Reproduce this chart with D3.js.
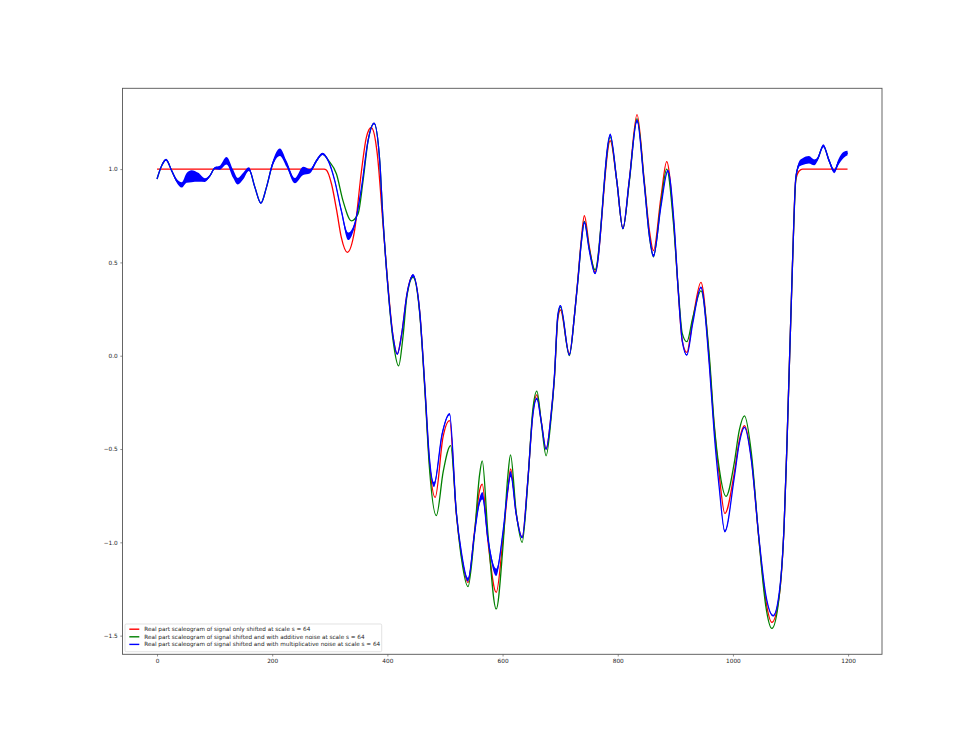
<!DOCTYPE html>
<html>
<head>
<meta charset="utf-8">
<script src="https://cdn.jsdelivr.net/npm/d3@7"></script>
<style>
html,body{margin:0;padding:0;background:#fff;}
svg{display:block;}
text{font-family:"DejaVu Sans",sans-serif;}
</style>
</head>
<body>
<svg id="chart" width="980" height="735"></svg>
<script>
// ---- data ----
const xTicks = [0, 200, 400, 600, 800, 1000, 1200];
const yTicks = [1.0, 0.5, 0.0, -0.5, -1.0, -1.5];
const seriesNames = [
  "Real part scaleogram of signal only shifted at scale s = 64",
  "Real part scaleogram of signal shifted and with additive noise at scale s = 64",
  "Real part scaleogram of signal shifted and with multiplicative noise at scale s = 64"
];
const seriesColors = ["#ff0000", "#008000", "#0000ff"];

// red: shifted only  [x, value]
const redData = [
[0,1.0],[290,1.0],[294,0.995],[303,0.92],[312,0.777],[320,0.634],[330.5,0.554],[343,0.67],[355,0.99],[363.5,1.17],[372,1.223],[382.5,1.08],[392,0.72],[399,0.45],[410,0.10],[417,0.01],[425,0.12],[434,0.33],[444,0.43],[456,0.24],[465,-0.17],[473,-0.57],[483,-0.759],[496.5,-0.438],[508,-0.348],[519.7,-0.848],[528.3,-1.063],[540,-1.215],[551.4,-0.938],[560,-0.723],[564.7,-0.688],[574.5,-0.991],[589,-1.268],[600.5,-0.99],[609,-0.723],[614,-0.607],[623.7,-0.848],[634,-0.974],[643.8,-0.67],[652.5,-0.313],[659.5,-0.21],[667,-0.348],[675.6,-0.50],[684.4,-0.313],[690,-0.12],[696,0.20],[700.5,0.245],[716,0.01],[725,0.223],[731,0.42],[736.5,0.616],[742,0.75],[750.8,0.58],[760.6,0.45],[787,1.152],[798.3,0.938],[809,0.682],[820,0.938],[833.5,1.292],[846,0.938],[855,0.67],[862,0.563],[875,0.848],[885,1.04],[897,0.72],[905,0.35],[912,0.08],[920,0.018],[930,0.188],[944.5,0.393],[959,-0.027],[967.6,-0.384],[976,-0.634],[986,-0.845],[1002,-0.634],[1011,-0.455],[1020,-0.375],[1032,-0.55],[1045,-0.98],[1057,-1.31],[1067.6,-1.429],[1080,-1.295],[1089,-0.90],[1094,-0.455],[1103.4,0.49],[1109,0.938],[1115,0.99],[1121,1.0],[1199,1.0]
];

// green: shifted + additive noise  [x, value]
const greenData = [
[0,0.947],[8,1.018],[15.6,1.05],[25.5,0.991],[34,0.938],[42.8,0.915],[51.5,0.953],[60,0.962],[71.6,0.956],[83.2,0.941],[92,0.965],[100.6,1.005],[108,1.006],[120.8,1.045],[132.3,0.974],[140,0.935],[149.7,0.963],[159.5,1.0],[170,0.902],[180.3,0.818],[190,0.902],[200.6,1.027],[213.3,1.09],[225,1.027],[239.3,0.938],[253.7,0.991],[265.3,0.989],[277,1.045],[287.3,1.081],[298,1.045],[311.6,0.974],[323,0.83],[337.6,0.723],[349,0.76],[357.8,0.938],[366.4,1.15],[376.9,1.245],[386.7,1.045],[392,0.75],[399.3,0.43],[410,0.08],[419.6,-0.054],[427,0.10],[434,0.32],[444.5,0.42],[456,0.23],[465,-0.18],[473,-0.6],[485,-0.857],[497,-0.62],[509.8,-0.482],[520,-0.85],[528.3,-1.08],[540,-1.237],[551.4,-0.95],[560,-0.64],[564.7,-0.563],[574.5,-0.95],[589,-1.357],[600.5,-1.03],[609,-0.65],[613.8,-0.531],[623.7,-0.84],[634,-1.0],[643.8,-0.68],[652.5,-0.29],[659.5,-0.19],[667,-0.35],[675.6,-0.536],[684.4,-0.33],[690,-0.12],[696,0.21],[700.5,0.26],[716,0.0],[725,0.22],[731,0.41],[736.5,0.6],[742,0.72],[750.8,0.57],[760.6,0.46],[787,1.17],[798.3,0.938],[809,0.68],[820,0.93],[833.5,1.27],[846,0.93],[855,0.64],[862,0.53],[875,0.82],[885,1.0],[897,0.7],[905,0.36],[912,0.12],[920,0.075],[930,0.2],[944.5,0.348],[959,0.0],[967.6,-0.37],[976,-0.6],[988,-0.754],[1002,-0.58],[1011,-0.40],[1020,-0.322],[1032,-0.52],[1045,-0.98],[1057,-1.34],[1067.6,-1.461],[1080,-1.30],[1089,-0.90],[1094,-0.455],[1103.4,0.49],[1109,0.94],[1112,1.0],[1115,1.027],[1121,1.04],[1132,1.05],[1141,1.036],[1147,1.054],[1157,1.125],[1167,1.045],[1176,0.988],[1183,1.036],[1192.6,1.077],[1199,1.086]
];

// blue: shifted + multiplicative noise  [x, value, noise half-spread]
const blueData = [
[0,0.947,0.003],[8,1.018,0.003],[15.6,1.05,0.005],[25.5,0.991,0.006],[34,0.938,0.01],[42.8,0.915,0.014],[51.5,0.953,0.026],[60,0.962,0.032],[71.6,0.956,0.024],[83.2,0.941,0.01],[92,0.965,0.005],[100.6,1.005,0.006],[108,1.006,0.01],[120.8,1.045,0.02],[132.3,0.974,0.022],[140,0.935,0.018],[149.7,0.963,0.018],[159.5,1.0,0.01],[170,0.902,0.004],[180.3,0.818,0.003],[190,0.902,0.004],[200.6,1.027,0.012],[213.3,1.09,0.02],[225,1.027,0.016],[239.3,0.938,0.014],[253.7,0.991,0.022],[265.3,0.989,0.012],[277,1.045,0.008],[287.3,1.081,0.006],[298,1.04,0.005],[308.6,0.938,0.006],[320,0.777,0.01],[332,0.64,0.02],[343.3,0.705,0.012],[355,0.90,0.006],[366.4,1.152,0.005],[376.9,1.245,0.005],[386.7,1.045,0.003],[392,0.75,0.003],[399.3,0.43,0.003],[410,0.10,0.003],[417.3,0.009,0.004],[425,0.12,0.004],[434,0.33,0.005],[444.5,0.43,0.008],[456,0.24,0.004],[465,-0.16,0.004],[473,-0.55,0.006],[481,-0.691,0.014],[495,-0.42,0.01],[508,-0.313,0.006],[519.7,-0.84,0.004],[528.3,-1.05,0.005],[540,-1.20,0.01],[551.4,-0.95,0.012],[560,-0.78,0.018],[565,-0.75,0.02],[574.5,-0.98,0.016],[589,-1.161,0.02],[600.5,-0.95,0.012],[609,-0.72,0.012],[614,-0.634,0.016],[623.7,-0.85,0.006],[634,-0.974,0.005],[643.8,-0.67,0.004],[652.5,-0.32,0.004],[659.5,-0.23,0.006],[667,-0.35,0.004],[675.6,-0.50,0.004],[684.4,-0.31,0.003],[690,-0.11,0.003],[696,0.22,0.003],[700.5,0.268,0.004],[716,0.005,0.004],[725,0.22,0.003],[731,0.41,0.003],[736.5,0.6,0.004],[742,0.714,0.006],[750.8,0.56,0.004],[760.6,0.441,0.005],[787,1.183,0.008],[798.3,0.938,0.004],[809,0.682,0.004],[820,0.94,0.004],[833.5,1.259,0.008],[846,0.92,0.004],[855,0.64,0.005],[862,0.536,0.008],[875,0.80,0.004],[887,0.991,0.006],[898,0.7,0.003],[905,0.35,0.003],[912,0.08,0.003],[920,0.004,0.004],[930,0.17,0.003],[944.5,0.366,0.005],[959,-0.05,0.003],[967.6,-0.42,0.003],[976,-0.70,0.003],[986,-0.941,0.006],[1002,-0.66,0.003],[1011,-0.47,0.003],[1020,-0.384,0.004],[1032,-0.56,0.003],[1045,-0.97,0.003],[1057,-1.28,0.003],[1070,-1.393,0.004],[1080,-1.28,0.003],[1089,-0.90,0.003],[1094,-0.455,0.003],[1103.4,0.49,0.004],[1109,0.95,0.008],[1112,1.0,0.012],[1115,1.027,0.015],[1121,1.04,0.018],[1132,1.05,0.02],[1141,1.036,0.016],[1147,1.054,0.01],[1157,1.125,0.008],[1167,1.045,0.01],[1176,0.988,0.01],[1183,1.036,0.016],[1192.6,1.077,0.016],[1199,1.086,0.012]
];

// ---- layout ----
const svg = d3.select("#chart");
const L = 122.5, R = 882, T = 88.3, B = 654.3;
const x = d3.scaleLinear().domain([-59.95, 1258.85]).range([L, R]);
const y = d3.scaleLinear().domain([-1.6, 1.433]).range([B, T]);

svg.append("defs").append("clipPath").attr("id","clip")
  .append("rect").attr("x",L).attr("y",T).attr("width",R-L).attr("height",B-T);

const g = svg.append("g").attr("clip-path","url(#clip)");
const line = d3.line().x(d=>x(d[0])).y(d=>y(d[1])).curve(d3.curveMonotoneX);
const band = d3.area().x(d=>x(d[0])).y0(d=>y(d[1]-d[2])).y1(d=>y(d[1]+d[2])).curve(d3.curveMonotoneX);

g.append("path").datum(redData).attr("d",line).attr("fill","none")
  .attr("stroke",seriesColors[0]).attr("stroke-width",1.3);
g.append("path").datum(greenData).attr("d",line).attr("fill","none")
  .attr("stroke",seriesColors[1]).attr("stroke-width",1.3);
g.append("path").datum(blueData).attr("d",band).attr("fill",seriesColors[2]).attr("stroke","none");
g.append("path").datum(blueData).attr("d",line).attr("fill","none")
  .attr("stroke",seriesColors[2]).attr("stroke-width",1.3);

// axes
const xAxis = d3.axisBottom(x).tickValues(xTicks).tickSize(2.2).tickPadding(2).tickFormat(d3.format("d"));
const yAxis = d3.axisLeft(y).tickValues(yTicks).tickSize(2.2).tickPadding(2.5)
  .tickFormat(d => d3.format(".1f")(d).replace("-", "\u2212"));

const gx = svg.append("g").attr("transform",`translate(0,${B})`).call(xAxis);
const gy = svg.append("g").attr("transform",`translate(${L},0)`).call(yAxis);
[gx, gy].forEach(a => {
  a.select(".domain").remove();
  a.selectAll(".tick line").attr("stroke","#444").attr("stroke-width",0.6);
  a.selectAll(".tick text").attr("fill","#222").style("font-size","5.8px").style("font-family","DejaVu Sans");
});

// frame
svg.append("rect").attr("x",L).attr("y",T).attr("width",R-L).attr("height",B-T)
  .attr("fill","none").attr("stroke","#555").attr("stroke-width",0.9);

// legend
const lg = svg.append("g");
lg.append("rect").attr("x",125).attr("y",624).attr("width",256.7).attr("height",27.7)
  .attr("rx",1.2).attr("fill","#fff").attr("fill-opacity",0.8).attr("stroke","#d6d6d6").attr("stroke-width",0.7);
const rowY = [629.2, 636.8, 644.4];
seriesNames.forEach((name,i) => {
  lg.append("line").attr("x1",129.3).attr("x2",139.3).attr("y1",rowY[i]).attr("y2",rowY[i])
    .attr("stroke",seriesColors[i]).attr("stroke-width",1.4);
  lg.append("text").attr("x",144.3).attr("y",rowY[i]).attr("dy","0.35em")
    .style("font-size","5.7px").attr("fill","#222").text(name);
});
</script>
</body>
</html>
